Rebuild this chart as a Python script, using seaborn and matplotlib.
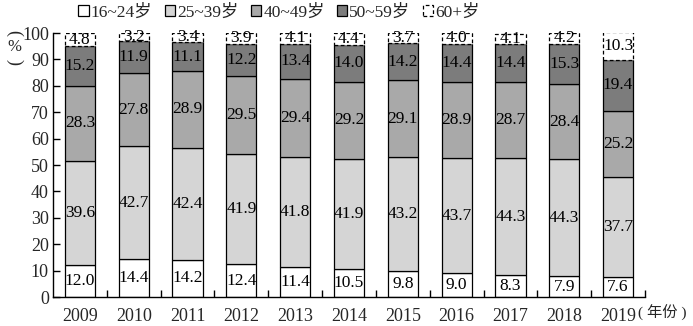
import numpy as np
import pandas as pd
import matplotlib
matplotlib.use("Agg")
import matplotlib.pyplot as plt
import seaborn as sns

# Age structure of the workforce, percent of total, by year
years = ["2009", "2010", "2011", "2012", "2013", "2014", "2015", "2016", "2017", "2018", "2019"]
age_groups = ["16~24岁", "25~39岁", "40~49岁", "50~59岁", "60+岁"]
share_16_24 = [12.0, 14.4, 14.2, 12.4, 11.4, 10.5, 9.8, 9.0, 8.3, 7.9, 7.6]
share_25_39 = [39.6, 42.7, 42.4, 41.9, 41.8, 41.9, 43.2, 43.7, 44.3, 44.3, 37.7]
share_40_49 = [28.3, 27.8, 28.9, 29.5, 29.4, 29.2, 29.1, 28.9, 28.7, 28.4, 25.2]
share_50_59 = [15.2, 11.9, 11.1, 12.2, 13.4, 14.0, 14.2, 14.4, 14.4, 15.3, 19.4]
share_60_up = [4.8, 3.2, 3.4, 3.9, 4.1, 4.4, 3.7, 4.0, 4.1, 4.2, 10.3]
y_ticks = [0, 10, 20, 30, 40, 50, 60, 70, 80, 90, 100]

series = [share_16_24, share_25_39, share_40_49, share_50_59, share_60_up]
fills = ["#ffffff", "#d5d5d5", "#a9a9a9", "#7c7c7c", "#ffffff"]
line_styles = ["-", "-", "-", "-", (0, (3, 2))]

df = pd.DataFrame({
    "year": np.repeat(years, len(age_groups)),
    "group": age_groups * len(years),
    "share": np.array(series).T.ravel(),
})

sns.set_theme(style="ticks")
plt.rcParams["font.family"] = ["Liberation Serif", "Noto Sans CJK SC"]
plt.rcParams["axes.unicode_minus"] = False

fig = plt.figure(figsize=(6.93, 3.26), dpi=100)
ax = fig.add_axes([53 / 693, 29 / 326, 592 / 693, 264 / 326])

bottom = np.zeros(len(years))
for grp, fill, ls in zip(age_groups, fills, line_styles):
    sub = df[df["group"] == grp].set_index("year").loc[years].reset_index()
    vals = sub["share"].to_numpy()
    sns.barplot(data=sub, x="year", y="share", order=years, ax=ax,
                color=fill, saturation=1, errorbar=None, width=0.56,
                bottom=bottom, edgecolor="black", linewidth=0.9,
                linestyle=ls, label=grp, legend=False)
    container = ax.containers[-1]
    ax.bar_label(container, labels=[f"{v:.1f}" for v in vals],
                 label_type="center", fontsize=12.5, color="black",
                 family="Liberation Serif")
    bottom = bottom + vals

if ax.get_legend() is not None:
    ax.get_legend().remove()

ax.set_xlim(-0.5, 10.5)
ax.set_ylim(0, 100)
ax.set_yticks(y_ticks)
ax.set_yticklabels([str(t) for t in y_ticks], fontsize=13)
ax.set_xticks(range(len(years)))
ax.set_xticklabels(years, fontsize=13)
ax.tick_params(axis="x", length=0, pad=8)
ax.set_xticks(np.arange(0.5, len(years) + 0.5, 1.0), minor=True)
ax.tick_params(axis="x", which="minor", direction="in", length=5, width=1, color="black")
ax.tick_params(axis="y", direction="in", length=5, width=1, color="black", pad=3)
for side in ("top", "right"):
    ax.spines[side].set_visible(False)
for side in ("left", "bottom"):
    ax.spines[side].set_color("black")
    ax.spines[side].set_linewidth(1.0)
ax.set_xlabel("")
ax.set_ylabel("")

# unit labels: vertical "(%)" with upright percent sign
fig.text(14 / 693, 1 - 33 / 326, "(", rotation=-90, ha="center", va="center", fontsize=13)
fig.text(14 / 693, 1 - 47 / 326, "%", ha="center", va="center", fontsize=12)
fig.text(14 / 693, 1 - 62 / 326, ")", rotation=-90, ha="center", va="center", fontsize=13)
fig.text(638 / 693, 1 - 313 / 326, "( 年份 )", ha="left", va="center", fontsize=11)

handles = [c.patches[0] for c in ax.containers]
fig.legend(handles, age_groups, loc="upper left", bbox_to_anchor=(74 / 693, 1.0),
           ncol=5, frameon=False, fontsize=12.5, handlelength=0.6, handleheight=0.6,
           handletextpad=0.12, columnspacing=0.7, borderaxespad=0.1, borderpad=0.15)

fig.savefig("out.png", dpi=100)
